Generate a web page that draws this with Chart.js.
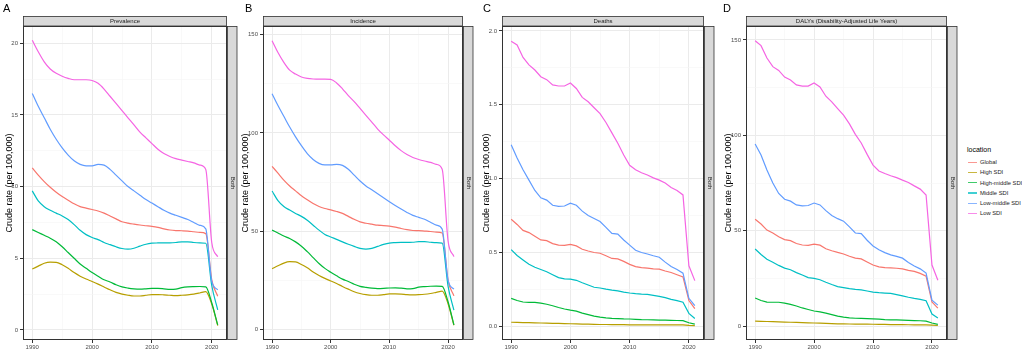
<!DOCTYPE html>
<html lang="en">
<head>
  <meta charset="UTF-8" />
  <title>Crude rate by SDI location</title>
  <script src="https://cdn.jsdelivr.net/npm/chart.js"></script>
  <style>
    body {
      margin: 0;
      background: #ffffff;
      font-family: 'Liberation Sans', Arial, sans-serif;
    }
    #wrap {
      position: relative;
      width: 1022px;
      height: 351px;
      overflow: hidden;
    }
    #wrap canvas {
      position: absolute;
      top: 0;
    }
    #legend {
      position: absolute;
      left: 962px;
      top: 146px;
      font-size: 5.8px;
      color: #1a1a1a;
    }
    #legend .ttl {
      font-size: 7px;
      color: #000000;
      margin-left: 5px;
      height: 11px;
    }
    #legend .item {
      position: relative;
      height: 10.3px;
      line-height: 10.3px;
    }
    #legend .key {
      position: absolute;
      left: 6px;
      top: 4.6px;
      width: 9px;
      height: 1.2px;
      opacity: 0.75;
    }
    #legend .lab {
      position: absolute;
      left: 18px;
      white-space: nowrap;
    }
  </style>
</head>
<body>
  <div id="wrap">
    <canvas id="pA" width="240" height="351" style="left:0px"></canvas>
    <canvas id="pB" width="240" height="351" style="left:240px"></canvas>
    <canvas id="pC" width="242" height="351" style="left:480px"></canvas>
    <canvas id="pD" width="238" height="351" style="left:722px"></canvas>
    <div id="legend"></div>
  </div>

  <script>
    // data
    const years = [1990,1991,1992,1993,1994,1995,1996,1997,1998,1999,2000,2001,2002,2003,2004,2005,
                   2006,2007,2008,2009,2010,2011,2012,2013,2014,2015,2016,2017,2018,2019,2020,2021];
    const locations = ['Global', 'High SDI', 'High-middle SDI', 'Middle SDI', 'Low-middle SDI', 'Low SDI'];
    const colors = ['#F8766D', '#B79F00', '#00BA38', '#00BFC4', '#619CFF', '#F564E3'];

    const xMajor = [1990, 2000, 2010, 2020];
    const xMinor = [1995, 2005, 2015];

    // Prevalence
    const prevGlobal = [11.3,10.8,10.35,9.95,9.6,9.3,9.05,8.8,8.6,8.5,8.4,8.3,8.15,7.95,7.75,7.55,7.45,7.38,7.32,7.27,7.22,7.15,7.05,6.97,6.93,6.92,6.9,6.85,6.8,6.72,3.5,2.35];
    const prevHigh = [4.25,4.45,4.65,4.73,4.72,4.55,4.3,4.0,3.75,3.55,3.38,3.2,3.0,2.8,2.62,2.5,2.42,2.37,2.37,2.42,2.47,2.47,2.45,2.42,2.4,2.42,2.45,2.5,2.58,2.67,1.8,0.3];
    const prevHighMid = [7.0,6.8,6.6,6.4,6.15,5.8,5.4,5.0,4.6,4.3,4.0,3.75,3.5,3.35,3.15,3.0,2.92,2.87,2.85,2.87,2.9,2.9,2.87,2.83,2.85,2.95,3.0,3.02,3.03,3.0,1.9,0.35];
    const prevMiddle = [9.7,9.0,8.6,8.35,8.15,7.95,7.7,7.35,6.95,6.65,6.45,6.3,6.1,5.95,5.8,5.68,5.64,5.7,5.85,5.98,6.05,6.07,6.08,6.08,6.1,6.15,6.15,6.1,6.08,6.05,3.1,1.4];
    const prevLowMid = [16.5,15.6,14.8,14.0,13.3,12.7,12.2,11.8,11.55,11.45,11.45,11.55,11.5,11.2,10.8,10.4,10.0,9.7,9.4,9.1,8.85,8.6,8.35,8.15,8.0,7.85,7.7,7.5,7.3,7.05,3.4,2.8];
    const prevLow = [20.2,19.4,18.7,18.2,17.9,17.7,17.55,17.45,17.45,17.45,17.4,17.2,16.8,16.3,15.8,15.3,14.8,14.3,13.8,13.4,13.0,12.6,12.3,12.1,11.95,11.85,11.75,11.65,11.5,11.2,6.1,5.1];

    // Incidence
    const incGlobal = [83,79.5,76,73,70.5,68,66,64,62.5,61.5,60.8,60,59,57.5,56,54.7,54,53.5,53,52.8,52.5,52,51.3,50.7,50.3,50.2,50,49.8,49.5,49,25,17];
    const incHigh = [30.8,32.3,33.7,34.4,34.3,33,31.3,29.2,27.4,25.9,24.6,23.3,21.8,20.4,19.1,18.2,17.6,17.3,17.3,17.6,18,18,17.9,17.6,17.5,17.6,17.8,18.2,18.8,19.4,13,2];
    const incHighMid = [50.5,49,47.5,46.2,44.5,42.3,39.5,36.5,33.5,31,29,27.2,25.5,24.3,22.9,21.8,21.3,20.9,20.7,20.8,21,21.1,20.9,20.6,20.7,21.4,21.7,21.9,22,21.8,14,2.2];
    const incMiddle = [70.4,65.5,62.5,60.7,59,57.5,55.5,53,50.5,48.3,47,45.8,44.5,43.3,42.2,41.2,40.8,41.2,42.2,43.2,43.9,44.1,44.2,44.2,44.3,44.6,44.6,44.3,44.1,43.9,22,9.7];
    const incLowMid = [120,114,108.5,103,98,93.5,89.5,86.5,84.5,83.7,83.7,84,83.5,81.5,78.5,75.5,73,71,69,67,65,63,61.2,59.5,58,57,56,54.5,53,51,25,20.4];
    const incLow = [147,141,136,132,130,128.5,127.8,127.5,127.4,127.4,127.3,125.5,122.5,119,116,112.5,109,105.5,102,99,96.3,93.5,91,89,87.5,86.5,85.7,85,84,81.5,45,37];

    // Deaths
    const dthGlobal = [0.725,0.69,0.65,0.635,0.61,0.585,0.58,0.56,0.55,0.548,0.555,0.545,0.522,0.51,0.5,0.495,0.478,0.46,0.457,0.44,0.42,0.405,0.398,0.395,0.39,0.388,0.375,0.365,0.35,0.335,0.175,0.12];
    const dthHigh = [0.028,0.027,0.026,0.025,0.024,0.023,0.022,0.021,0.02,0.019,0.018,0.017,0.016,0.015,0.014,0.013,0.013,0.012,0.012,0.012,0.011,0.011,0.011,0.011,0.01,0.01,0.01,0.01,0.01,0.01,0.007,0.005];
    const dthHighMid = [0.19,0.175,0.165,0.163,0.163,0.158,0.15,0.14,0.128,0.118,0.11,0.103,0.09,0.08,0.07,0.063,0.058,0.055,0.053,0.051,0.05,0.048,0.046,0.045,0.044,0.043,0.042,0.041,0.04,0.039,0.025,0.015];
    const dthMiddle = [0.52,0.48,0.45,0.42,0.4,0.385,0.37,0.35,0.33,0.322,0.32,0.312,0.295,0.28,0.265,0.26,0.252,0.245,0.24,0.232,0.226,0.222,0.219,0.217,0.21,0.203,0.195,0.183,0.175,0.164,0.088,0.054];
    const dthLowMid = [1.23,1.14,1.06,0.99,0.92,0.87,0.855,0.82,0.813,0.815,0.834,0.82,0.78,0.75,0.73,0.71,0.67,0.63,0.625,0.585,0.55,0.515,0.5,0.49,0.478,0.468,0.435,0.405,0.385,0.36,0.19,0.14];
    const dthLow = [1.93,1.905,1.82,1.77,1.735,1.69,1.67,1.634,1.627,1.627,1.647,1.61,1.55,1.52,1.48,1.44,1.38,1.31,1.24,1.16,1.09,1.06,1.04,1.025,1.005,0.99,0.97,0.94,0.92,0.89,0.41,0.31];

    // DALYs
    const dalyGlobal = [56,53.5,50.3,48.8,46.8,45.3,44.8,43.3,42.5,42.3,43,42.4,40.5,39.5,38.6,37.8,36.6,35.6,35.2,33.6,32,31,30.6,30.5,30.3,30,29.2,28.7,27.6,26.2,12.6,9.4];
    const dalyHigh = [2.6,2.5,2.4,2.3,2.2,2.1,2.0,1.9,1.8,1.7,1.6,1.5,1.4,1.3,1.2,1.15,1.1,1.05,1.0,0.98,0.95,0.9,0.85,0.8,0.75,0.72,0.7,0.67,0.64,0.6,0.45,0.3];
    const dalyHighMid = [14.7,13.4,12.6,12.5,12.5,12,11.4,10.5,9.5,8.7,7.9,7.4,6.8,6,5.2,4.7,4.3,4.1,4,3.9,3.8,3.6,3.4,3.3,3.2,3.1,3,2.9,2.8,2.6,1.6,0.9];
    const dalyMiddle = [40.4,37.5,35,33.5,31.8,30.4,29.5,28,26.8,25.4,25,24.3,23,21.8,20.7,20.2,19.6,19.2,19,18.4,17.8,17.5,17.3,17.1,16.5,15.8,15.1,14.5,14,13.3,6.3,4.2];
    const dalyLowMid = [95.4,89.7,81.8,75,69.5,66.5,65.5,63.5,63,63.2,64.5,63.5,60.5,58,56.3,55,52,48.8,48.5,45,42,40,38.5,37.3,36.5,35.6,33.3,31.5,30,27.8,13.6,11];
    const dalyLow = [149.6,147,140.5,136,134,130.5,129,126.4,125.8,125.8,127.4,125.3,120.5,117.5,114,110.6,106,100.5,96,90,84.4,81.3,80,78.8,77.8,76.5,75.3,73.5,71.8,68.7,32,24];

    const panels = [
      { id: 'pA', letter: 'A', letterX: 3, yTitleX: 10, axisW: 23, padRight: 13, title: 'Prevalence',
        yMin: -0.7, yMax: 21.2, yMajor: [0, 5, 10, 15, 20], yMinor: [2.5, 7.5, 12.5, 17.5], dec: 0, smooth: true,
        series: [prevGlobal, prevHigh, prevHighMid, prevMiddle, prevLowMid, prevLow] },
      { id: 'pB', letter: 'B', letterX: 5, yTitleX: 6, axisW: 23, padRight: 17, title: 'Incidence',
        yMin: -5.5, yMax: 154.5, yMajor: [0, 50, 100, 150], yMinor: [25, 75, 125], dec: 0, smooth: true,
        series: [incGlobal, incHigh, incHighMid, incMiddle, incLowMid, incLow] },
      { id: 'pC', letter: 'C', letterX: 3, yTitleX: 7, axisW: 22, padRight: 18, title: 'Deaths',
        yMin: -0.092, yMax: 2.033, yMajor: [0, 0.5, 1, 1.5, 2], yMinor: [0.25, 0.75, 1.25, 1.75], dec: 1, smooth: false,
        series: [dthGlobal, dthHigh, dthHighMid, dthMiddle, dthLowMid, dthLow] },
      { id: 'pD', letter: 'D', letterX: 1, yTitleX: 7, axisW: 24, padRight: 13, title: 'DALYs (Disability-Adjusted Life Years)',
        yMin: -7.3, yMax: 157.3, yMajor: [0, 50, 100, 150], yMinor: [25, 75, 125], dec: 0, smooth: false,
        series: [dalyGlobal, dalyHigh, dalyHighMid, dalyMiddle, dalyLowMid, dalyLow] }
    ];

    const FONT = "'Liberation Sans', Arial, sans-serif";

    function decoPlugin(p) {
      return {
        id: 'deco' + p.id,
        afterDraw(chart) {
          const ctx = chart.ctx;
          const a = chart.chartArea;
          const w = a.right - a.left, h = a.bottom - a.top;
          ctx.save();
          // panel border
          ctx.strokeStyle = '#333333';
          ctx.lineWidth = 1;
          ctx.strokeRect(a.left + 0.5, a.top + 0.5, w - 1, h - 1);
          // top strip
          ctx.fillStyle = '#d9d9d9';
          ctx.fillRect(a.left, 16, w, 10);
          ctx.lineWidth = 0.8;
          ctx.strokeRect(a.left + 0.5, 16.5, w - 1, 9.5);
          ctx.fillStyle = '#1a1a1a';
          ctx.font = '6px ' + FONT;
          ctx.textAlign = 'center';
          ctx.textBaseline = 'middle';
          ctx.fillText(p.title, a.left + w / 2, 21.5);
          // right strip
          ctx.fillStyle = '#d9d9d9';
          ctx.fillRect(a.right, a.top, 10, h);
          ctx.strokeRect(a.right + 0.5, a.top + 0.5, 9.5, h - 1);
          ctx.save();
          ctx.translate(a.right + 5.3, a.top + h / 2);
          ctx.rotate(Math.PI / 2);
          ctx.fillStyle = '#1a1a1a';
          ctx.fillText('Both', 0, 0);
          ctx.restore();
          // y axis title
          ctx.save();
          ctx.translate(p.yTitleX, a.top + h / 2);
          ctx.rotate(-Math.PI / 2);
          ctx.fillStyle = '#000000';
          ctx.font = '9px ' + FONT;
          ctx.fillText('Crude rate (per 100,000)', 0, 0);
          ctx.restore();
          // panel letter
          ctx.fillStyle = '#000000';
          ctx.font = '11px ' + FONT;
          ctx.textAlign = 'left';
          ctx.textBaseline = 'alphabetic';
          ctx.fillText(p.letter, p.letterX, 11.5);
          ctx.restore();
        }
      };
    }

    function makePanel(p) {
      const canvas = document.getElementById(p.id);
      const datasets = p.series.map((vals, i) => ({
        label: locations[i],
        data: years.map((yr, k) => ({ x: yr, y: vals[k] })),
        borderColor: colors[i],
        backgroundColor: colors[i],
        borderWidth: 1.2,
        pointRadius: 0,
        fill: false,
        cubicInterpolationMode: p.smooth ? 'monotone' : 'default',
        tension: 0,
        order: 5 - i
      }));
      const yTicks = p.yMajor.concat(p.yMinor).sort((a, b) => a - b);
      const xTicks = xMajor.concat(xMinor).sort((a, b) => a - b);
      const isMajorX = v => xMajor.includes(v);
      const isMajorY = v => p.yMajor.includes(v);

      new Chart(canvas, {
        type: 'line',
        data: { datasets },
        options: {
          responsive: false,
          animation: false,
          layout: { padding: { left: 0, top: 26, right: p.padRight, bottom: 0 } },
          plugins: { legend: { display: false }, tooltip: { enabled: false } },
          scales: {
            x: {
              type: 'linear',
              min: 1988.45,
              max: 2022.55,
              afterBuildTicks: s => { s.ticks = xTicks.map(v => ({ value: v })); },
              afterFit: s => { s.height = 11; },
              border: { display: false },
              grid: {
                color: c => isMajorX(c.tick.value) ? '#ebebeb' : '#f5f5f5',
                lineWidth: c => isMajorX(c.tick.value) ? 1 : 0.6,
                tickLength: 3,
                tickColor: c => isMajorX(c.tick.value) ? '#333333' : 'rgba(0,0,0,0)'
              },
              ticks: {
                autoSkip: false, maxRotation: 0, padding: 1,
                color: '#4d4d4d',
                font: { size: 6, family: FONT },
                callback: v => isMajorX(v) ? String(v) : ''
              }
            },
            y: {
              type: 'linear',
              min: p.yMin,
              max: p.yMax,
              afterBuildTicks: s => { s.ticks = yTicks.map(v => ({ value: v })); },
              afterFit: s => { s.width = p.axisW; },
              border: { display: false },
              grid: {
                color: c => isMajorY(c.tick.value) ? '#ebebeb' : '#f5f5f5',
                lineWidth: c => isMajorY(c.tick.value) ? 1 : 0.6,
                tickLength: 3,
                tickColor: c => isMajorY(c.tick.value) ? '#333333' : 'rgba(0,0,0,0)'
              },
              ticks: {
                autoSkip: false, padding: 2,
                color: '#4d4d4d',
                font: { size: 6, family: FONT },
                callback: v => isMajorY(v) ? v.toFixed(p.dec) : ''
              }
            }
          }
        },
        plugins: [decoPlugin(p)]
      });
    }

    panels.forEach(makePanel);

    // legend
    const legend = document.getElementById('legend');
    legend.innerHTML = '<div class="ttl">location</div>' + locations.map((name, i) =>
      `<div class="item"><span class="key" style="background:${colors[i]}"></span><span class="lab">${name}</span></div>`
    ).join('');
  </script>
</body>
</html>
